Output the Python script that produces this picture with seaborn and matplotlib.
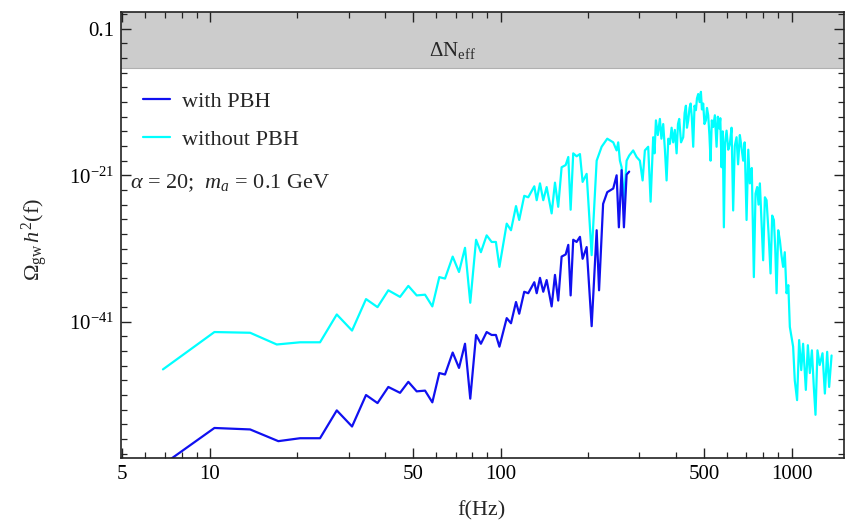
import numpy as np
import pandas as pd
import matplotlib
matplotlib.use("Agg")
import matplotlib.pyplot as plt
import matplotlib.ticker as mticker
import seaborn as sns

# ---- data: frequency (Hz) and log10(Omega_gw h^2) ----
f_without = [6.90, 10.37, 13.76, 16.99, 20.43, 23.93, 27.32, 30.83, 34.44, 37.72,
             41.09, 45.08, 48.14, 51.44, 54.95, 58.21, 61.52, 64.36, 68.39, 71.90,
             75.4, 78.6, 82.3, 85.5, 89.5, 93.1, 96.3, 99.0, 104.9, 108.5,
             112.9, 115.8, 120.5, 124.4, 130.5, 133.0, 136.5, 140.1, 143.9, 149.7,
             153.7, 157.7, 162.0, 167.3, 170.8, 174.0, 177.6, 182.4, 187.3, 191.3,
             197.5, 205.5, 213.8, 222.4, 232.5, 243.8, 250.4, 253.6, 257.0, 260.5,
             265.3, 271.0, 276.6, 285.5, 293.3, 301.0, 307.6, 313.2, 321.5, 327.7,
             334.5, 338, 341.8, 347, 352.7, 357, 362.1, 367, 371.9, 377,
             381.8, 387, 391.9, 397, 402.6, 407, 411.0, 417, 424.2, 429,
             433.4, 437, 441.4, 446, 449.8, 454, 459.2, 464, 469.1, 473,
             477.7, 483, 488.0, 492, 496.9, 502, 507.6, 512, 517.0, 522,
             526.8, 532, 537.8, 545, 552.5, 558, 563.9, 569, 574.7, 580,
             585.3, 591, 597.9, 606, 613.8, 622, 630.0, 638, 647.1, 655,
             664.2, 672, 681.9, 690, 700.5, 710, 719.0, 730, 742.1, 752,
             761.8, 770, 778.3, 788, 798.9, 810, 820.7, 834, 847.0, 858,
             869.6, 879, 888.4, 900, 911.9, 924, 935.6, 948, 961.2, 975,
             986.7, 1012.7, 1026, 1045, 1062, 1080, 1096, 1120, 1138, 1156,
             1175, 1193, 1209, 1228, 1250, 1278, 1302, 1326, 1347, 1373]
logO_without = [-47.5, -42.4, -42.5, -44.1, -43.8, -43.8, -40.0, -42.2, -37.9, -39.0,
                -36.7, -37.6, -36.1, -37.4, -37.3, -38.9, -34.9, -35.1, -32.1, -34.2,
                -30.9, -38.4, -29.8, -31.5, -29.2, -30.1, -30.1, -33.5, -27.6, -28.5,
                -25.2, -27.1, -23.8, -24.0, -22.5, -24.4, -22.1, -24.4, -22.6, -26.2,
                -22.0, -25.3, -19.9, -19.6, -18.5, -25.7, -18.0, -18.4, -18.1, -21.9,
                -20.8, -31.9, -19.0, -17.1, -16.0, -16.5, -17.6, -16.5, -19.0, -19.9,
                -24.5, -19.0, -18.3, -17.6, -18.5, -19.0, -21.7, -17.6, -17.1, -24.6,
                -15.8, -18.0, -13.5, -15.5, -13.3, -16.0, -14.0, -17.5, -21.7, -16.0,
                -16.7, -14.5, -16.5, -14.8, -18.0, -14.0, -13.3, -16.5, -15.8, -12.5,
                -11.5, -14.5, -13.5, -11.8, -11.2, -13.0, -17.1, -11.5, -12.1, -10.5,
                -9.9, -11.0, -9.6, -12.0, -11.2, -14.0, -13.5, -11.8, -12.8, -15.5,
                -19.0, -13.5, -14.4, -12.8, -17.1, -13.0, -14.6, -13.2, -19.9, -15.0,
                -28.1, -16.5, -14.9, -17.5, -16.7, -14.5, -25.8, -17.0, -15.8, -19.5,
                -15.5, -17.0, -19.0, -16.5, -27.1, -17.5, -22.1, -20.0, -34.9, -23.5,
                -22.6, -25.0, -22.1, -27.0, -32.6, -24.0, -24.4, -29.0, -34.4, -26.5,
                -27.1, -31.0, -37.1, -28.5, -29.9, -32.0, -33.5, -31.5, -37.1, -36.0,
                -41.7, -44.4, -49.0, -51.7, -43.5, -47.6, -44.0, -50.3, -44.2, -48.0,
                -44.9, -49.9, -53.7, -44.9, -46.9, -45.3, -50.8, -45.1, -49.9, -45.6]

f_with = [6.90, 10.37, 13.76, 17.2, 20.43, 23.93, 27.32, 30.83, 34.44, 37.72,
          41.09, 45.08, 48.14, 51.44, 54.95, 58.21, 61.52, 64.36, 68.39, 71.90,
          75.4, 78.6, 82.3, 85.5, 89.5, 93.1, 96.3, 99.0, 104.9, 108.5,
          112.9, 115.8, 120.5, 124.4, 130.5, 133.0, 136.5, 140.1, 143.9, 149.7,
          153.7, 157.7, 162.0, 167.3, 170.8, 174.0, 177.6, 182.4, 187.3, 191.3,
          197.5, 205.5, 213.8, 217.9, 225.0, 232.5, 243.8, 250.4, 254.9, 260.5,
          265.3, 271.0, 276.6]
logO_with = [-60.5, -55.5, -55.7, -57.3, -56.9, -56.9, -53.1, -55.3, -51.0, -52.1,
             -49.9, -50.7, -49.2, -50.5, -50.4, -52.0, -48.0, -48.2, -45.2, -47.3,
             -44.0, -51.5, -42.8, -44.0, -42.4, -42.8, -42.8, -44.4, -40.5, -41.2,
             -38.3, -39.9, -36.9, -37.1, -35.6, -37.1, -35.0, -36.9, -35.3, -38.9,
             -34.6, -38.1, -32.1, -31.8, -30.5, -37.4, -29.8, -30.1, -29.4, -32.4,
             -30.8, -41.6, -28.5, -36.7, -24.9, -23.3, -22.8, -21.0, -28.1, -20.3,
             -28.1, -20.9, -20.5]

series_labels = ["with PBH", "without PBH"]
x_major = [5, 10, 50, 100, 500, 1000]
x_major_labels = ["5", "10", "50", "100", "500", "1000"]
x_minor = [6, 7, 8, 9, 20, 30, 40, 60, 70, 80, 90, 200, 300, 400, 600, 700, 800, 900]
y_major_exp = [-1, -21, -41]
y_major_labels = ["0.1", r"$10^{-21}$", r"$10^{-41}$"]

df_without = pd.DataFrame({"f": f_without, "omega": np.power(10.0, logO_without)})
df_with = pd.DataFrame({"f": f_with, "omega": np.power(10.0, logO_with)})

sns.set_style("ticks")
plt.rcParams["font.family"] = ["Liberation Serif", "DejaVu Serif"]
plt.rcParams["mathtext.fontset"] = "custom"
plt.rcParams["mathtext.rm"] = "Liberation Serif"
plt.rcParams["mathtext.it"] = "Liberation Serif:italic"
plt.rcParams["mathtext.bf"] = "Liberation Serif:bold"

W, H = 847, 522
fig = plt.figure(figsize=(W / 100, H / 100), dpi=100)
L, R, T, B = 121, 844, 12, 458
ax = fig.add_axes([L / W, (H - B) / H, (R - L) / W, (B - T) / H])
ax.set_xscale("log")
ax.set_yscale("log")

ymin, ymax = 10 ** -59.6, 10 ** 1.3
ax.set_xlim(4.95, 1515)
ax.set_ylim(ymin, ymax)

# Delta N_eff excluded band
ax.axhspan(10 ** -6.3, ymax, color="#cccccc", zorder=0, lw=0)
ax.axhline(10 ** -6.3, color="#b0b0b0", lw=0.8, zorder=0.5)
ax.text(68.5, 10 ** -3.95, r"$\Delta\mathrm{N}_{\mathrm{eff}}$", ha="center",
        va="center", fontsize=15)

sns.lineplot(data=df_without, x="f", y="omega", ax=ax, color="#00ffff", lw=1.6,
             estimator=None, sort=False, label=series_labels[1])
sns.lineplot(data=df_with, x="f", y="omega", ax=ax, color="#1010f0", lw=1.6,
             estimator=None, sort=False, label=series_labels[0])

lines = ax.get_lines()
handles = [l for l in lines if l.get_label() == series_labels[0]] + \
          [l for l in lines if l.get_label() == series_labels[1]]
ax.legend(handles=handles, labels=series_labels, loc="upper left",
          bbox_to_anchor=(0.031, 0.822), frameon=False, fontsize=16,
          handlelength=1.2, handletextpad=0.55, labelspacing=0.78,
          borderpad=0, borderaxespad=0)

ax.text(0.012, 0.617, r"$\alpha$ = 20;  $m_a$ = 0.1 GeV", transform=ax.transAxes,
        fontsize=16, va="center", ha="left")

# ticks
ax.xaxis.set_major_locator(mticker.FixedLocator(x_major))
ax.xaxis.set_major_formatter(mticker.FixedFormatter(x_major_labels))
ax.xaxis.set_minor_locator(mticker.FixedLocator(x_minor))
ax.xaxis.set_minor_formatter(mticker.NullFormatter())

ax.yaxis.set_major_locator(mticker.FixedLocator([10.0 ** e for e in y_major_exp]))
ax.yaxis.set_major_formatter(mticker.FixedFormatter(y_major_labels))
y_minor = [10.0 ** e for e in range(1, -60, -2) if e not in y_major_exp]
ax.yaxis.set_minor_locator(mticker.FixedLocator(y_minor))
ax.yaxis.set_minor_formatter(mticker.NullFormatter())

ax.tick_params(which="both", direction="in", top=True, right=True,
               colors="#222222", labelcolor="black")
ax.tick_params(which="major", length=7, width=1.0, labelsize=15, pad=5)
ax.tick_params(which="minor", length=4, width=0.9)
for s in ax.spines.values():
    s.set_color("#222222")
    s.set_linewidth(1.2)

ax.set_xlabel("f(Hz)", fontsize=16)
ax.set_ylabel(r"$\Omega_{\mathrm{gw}}\,h^2\mathrm{(f)}$", fontsize=16)
ax.xaxis.set_label_coords(0.498, -0.097)
ax.yaxis.set_label_coords(-0.098, 0.49)

fig.savefig("out.png", dpi=100)
